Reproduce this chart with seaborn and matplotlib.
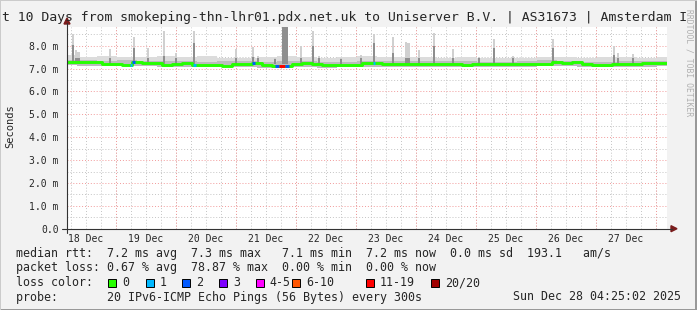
import numpy as np
import matplotlib
matplotlib.use("Agg")
import matplotlib.pyplot as plt
import seaborn as sns
from matplotlib.patches import Rectangle, Polygon
from matplotlib.lines import Line2D

# ---------------- data (hours since 18 Dec 04:25) ----------------
median_hours = list(range(0, 241, 4))
median_ms = [7.29, 7.29, 7.29, 7.28, 7.22, 7.20, 7.17, 7.28, 7.23, 7.23,
             7.15, 7.22, 7.23, 7.17, 7.16, 7.16, 7.10, 7.19, 7.20, 7.25,
             7.17, 7.12, 7.13, 7.20, 7.25, 7.22, 7.16, 7.16, 7.16, 7.17,
             7.24, 7.24, 7.22, 7.22, 7.21, 7.22, 7.22, 7.21, 7.21, 7.20,
             7.17, 7.20, 7.21, 7.20, 7.20, 7.21, 7.20, 7.20, 7.21, 7.27,
             7.26, 7.27, 7.20, 7.18, 7.18, 7.19, 7.20, 7.22, 7.24, 7.25,
             7.25]

smoke_hours = list(range(0, 241, 8))
smoke_hi = [7.58, 7.52, 7.55, 7.50, 7.49, 7.56, 7.52, 7.54, 7.47, 7.45,
            7.52, 7.56, 7.51, 7.47, 7.50, 7.56, 7.52, 7.51, 7.50, 7.48,
            7.50, 7.47, 7.45, 7.48, 7.53, 7.50, 7.47, 7.52, 7.50, 7.48, 7.50]
quart_hi = [7.38, 7.36, 7.35, 7.37, 7.34, 7.34, 7.32, 7.30, 7.32, 7.33,
            7.30, 7.35, 7.33, 7.30, 7.29, 7.34, 7.33, 7.33, 7.32, 7.32,
            7.32, 7.31, 7.31, 7.32, 7.36, 7.35, 7.31, 7.30, 7.32, 7.33, 7.34]
smoke_lo = [7.14, 7.12, 7.10, 7.12, 7.10, 7.09, 7.06, 7.06, 7.05, 7.08,
            7.04, 7.07, 7.05, 7.04, 7.05, 7.06, 7.08, 7.08, 7.07, 7.08,
            7.07, 7.06, 7.07, 7.07, 7.10, 7.10, 7.07, 7.06, 7.07, 7.08, 7.10]

spike_hours = [2.4, 3.6, 4.6, 17.2, 26.8, 32.4, 38.8, 43.6, 50.8, 67.6,
               74.4, 76.4, 83.2, 86.6, 87.8, 93.6, 98.4, 100.8, 109.6, 117.6,
               122.8, 130.4, 135.6, 136.6, 140.8, 146.8, 154.4, 164.8, 170.8,
               178.4, 194.4, 218.8, 220.4, 226.4]
spike_top = [8.50, 7.80, 7.72, 7.85, 8.40, 7.90, 8.65, 7.70, 8.65, 7.85,
             7.95, 7.55, 7.45, 8.82, 8.82, 8.00, 8.65, 7.55, 7.48, 7.60,
             8.50, 8.40, 8.15, 8.10, 7.80, 8.55, 7.85, 7.52, 8.30,
             7.55, 8.30, 8.00, 7.70, 7.65]
spike_core = [8.05, 7.45, 7.45, 7.45, 7.90, 7.45, 7.55, 7.45, 8.10, 7.45,
              7.50, 7.45, 7.40, 8.82, 8.82, 7.45, 8.00, 7.45, 7.40, 7.45,
              8.10, 7.70, 7.45, 7.45, 7.45, 8.00, 7.45, 7.45, 7.90,
              7.45, 7.90, 7.60, 7.45, 7.45]

loss_start = [25.2, 26.0, 50.4, 74.0, 83.2, 84.8, 87.2, 122.4]
loss_end = [26.0, 27.2, 51.6, 75.2, 84.8, 87.2, 88.8, 123.2]
loss_cat = [1, 2, 1, 2, 2, 6, 2, 1]

loss_labels = ["0", "1", "2", "3", "4-5", "6-10", "11-19", "20/20"]
loss_colors = ["#26ff00", "#00b8ff", "#0059ff", "#7e00ff", "#ff00ff",
               "#ff5500", "#ff0000", "#a00000"]

y_ticks = [0, 1, 2, 3, 4, 5, 6, 7, 8]
y_labels = ["0.0", "1.0 m", "2.0 m", "3.0 m", "4.0 m", "5.0 m", "6.0 m",
            "7.0 m", "8.0 m"]
day_labels = ["18 Dec", "19 Dec", "20 Dec", "21 Dec", "22 Dec", "23 Dec",
              "24 Dec", "25 Dec", "26 Dec", "27 Dec"]
first_midnight = 19.583

title = "t 10 Days from smokeping-thn-lhr01.pdx.net.uk to Uniserver B.V. | AS31673 | Amsterdam I"
legend_rtt = "median rtt:  7.2 ms avg  7.3 ms max   7.1 ms min  7.2 ms now  0.0 ms sd  193.1   am/s"
legend_loss = "packet loss: 0.67 % avg  78.87 % max  0.00 % min  0.00 % now"
probe_text = "probe:       20 IPv6-ICMP Echo Pings (56 Bytes) every 300s"
date_text = "Sun Dec 28 04:25:02 2025"

# ---------------- figure ----------------
sns.set_style("white")
plt.rcParams['font.family'] = ['DejaVu Sans Mono']

W, H = 697, 310
fig = plt.figure(figsize=(W / 100, H / 100), dpi=100, facecolor='#f2f2f2')


def fx(x):
    return x / W


def fy(y):
    return 1 - y / H


L, R, T, B = 67, 667, 27, 228.7
ax = fig.add_axes([fx(L), fy(B), (R - L) / W, (B - T) / H])
ax.set_facecolor('white')
ax.set_xlim(0, 240)
ax.set_ylim(0, 8.82)

# grid
midnights = [first_midnight + 24 * k for k in range(10)]
minor_x = [h for h in np.arange(first_midnight - 18, 240, 6) if 0 < h < 240]
for h in minor_x:
    ax.axvline(h, color='#c4c4c4', lw=0.7, ls=(0, (1, 2)), zorder=0.5)
for v in np.arange(0.5, 8.82, 1.0):
    ax.axhline(v, color='#c4c4c4', lw=0.7, ls=(0, (1, 2)), zorder=0.5)
for h in midnights:
    ax.axvline(h, color='#f29a9a', lw=0.7, ls=(0, (1, 2)), zorder=0.6)
for v in y_ticks[1:]:
    ax.axhline(v, color='#f29a9a', lw=0.7, ls=(0, (1, 2)), zorder=0.6)

# smoke
ax.fill_between(smoke_hours, smoke_lo, smoke_hi, step='mid', color='#dcdcdc',
                lw=0, zorder=1)
ax.fill_between(smoke_hours, smoke_lo, quart_hi, step='mid', color='#bcbcbc',
                lw=0, zorder=1.1)
base = [7.2] * len(spike_hours)
ax.bar(spike_hours, np.array(spike_top) - 7.2, bottom=base, width=1.0,
       color='#d0d0d0', lw=0, zorder=1.2)
ax.bar(spike_hours, np.array(spike_core) - 7.2, bottom=base, width=1.0,
       color='#8e8e8e', lw=0, zorder=1.3)

# median line
sns.lineplot(x=median_hours, y=median_ms, color=loss_colors[0], lw=2.1,
             drawstyle='steps-mid', estimator=None, ax=ax, zorder=3)
for s, e, c in zip(loss_start, loss_end, loss_cat):
    i = int(round((s + e) / 2 / 4))
    yv = median_ms[i]
    ax.plot([s, e], [yv, yv], color=loss_colors[c], lw=2.1,
            solid_capstyle='butt', zorder=3.5)

# ticks and labels
ax.set_yticks(y_ticks)
ax.set_yticklabels(y_labels, fontsize=7)
ax.set_xticks(midnights)
ax.set_xticklabels([])
ax.set_xticks([m - 12 for m in midnights], minor=True)
ax.set_xticklabels(day_labels, minor=True, fontsize=7)
ax.tick_params(axis='x', which='major', length=2, color='#444', direction='inout')
ax.tick_params(axis='x', which='minor', length=0, pad=4)
ax.tick_params(axis='y', length=2, color='#444', pad=5, direction='inout')
for sp in ax.spines.values():
    sp.set_visible(False)
ax.set_xlabel('')
ax.set_ylabel('')

# axis lines with arrows
fig.add_artist(Line2D([fx(67), fx(67)], [fy(233), fy(23)],
                      transform=fig.transFigure, color='#333333', lw=0.8))
fig.add_artist(Line2D([fx(62), fx(672)], [fy(B), fy(B)],
                      transform=fig.transFigure, color='#333333', lw=0.8))
fig.add_artist(Polygon([(fx(64), fy(24)), (fx(70), fy(24)), (fx(67), fy(18))],
                       closed=True, transform=fig.transFigure, color='#7a1c1c'))
fig.add_artist(Polygon([(fx(671), fy(B - 3)), (fx(671), fy(B + 3)), (fx(677), fy(B))],
                       closed=True, transform=fig.transFigure, color='#7a1c1c'))

# frame (3D shade)
fig.add_artist(Rectangle((0, 0), 1, fy(308.5) - fy(310), transform=fig.transFigure,
                         color='#999999', lw=0))
fig.add_artist(Rectangle((fx(695), 0), fx(2), 1, transform=fig.transFigure,
                         color='#999999', lw=0))
fig.add_artist(Rectangle((0, fy(1)), 1, 1 - fy(1), transform=fig.transFigure,
                         color='#cbcbcb', lw=0))
fig.add_artist(Rectangle((0, 0), fx(1), 1, transform=fig.transFigure,
                         color='#cbcbcb', lw=0))

# texts
fig.text(fx(2), fy(17.5), title, ha='left', va='center', fontsize=9.45)
fig.text(fx(10), fy(126), 'Seconds', rotation=90, ha='center', va='center',
         fontsize=7.5)
fig.text(fx(689), fy(63), 'RRDTOOL / TOBI OETIKER', rotation=270, ha='center',
         va='center', fontsize=5.8, color='#b0b0b0')

fs = 8.4
fig.text(fx(16), fy(253.5), legend_rtt, ha='left', va='center', fontsize=fs)
fig.text(fx(16), fy(268), legend_loss, ha='left', va='center', fontsize=fs)
fig.text(fx(16), fy(282.5), 'loss color:', ha='left', va='center', fontsize=fs)
box_x = [108, 145.7, 182.3, 219, 255.7, 292.3, 365.7, 430.7]
for bx, lab, col in zip(box_x, loss_labels, loss_colors):
    fig.add_artist(Rectangle((fx(bx), fy(286.5)), fx(8), fy(278.5) - fy(286.5),
                             transform=fig.transFigure, facecolor=col,
                             edgecolor='black', lw=0.7))
    fig.text(fx(bx + 14), fy(282.5), lab, ha='left', va='center', fontsize=fs)
fig.text(fx(16), fy(297), probe_text, ha='left', va='center', fontsize=fs)
fig.text(fx(681), fy(297), date_text, ha='right', va='center', fontsize=fs)

fig.savefig('out.png', dpi=100, facecolor=fig.get_facecolor())
